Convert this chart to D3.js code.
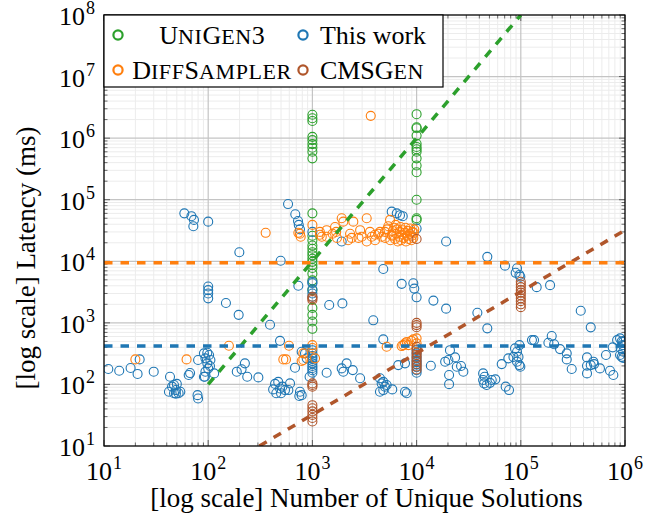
<!DOCTYPE html>
<html>
<head>
<meta charset="utf-8">
<script src="https://cdn.jsdelivr.net/npm/d3@7"></script>
<style>
  body { margin: 0; background: #fff; }
</style>
</head>
<body>
<svg id="chart" width="665" height="521" font-family="'Liberation Serif', 'Times New Roman', Times, 'DejaVu Serif', serif"></svg>
<script>
// ---- data ----
const xTickExps = [1, 2, 3, 4, 5, 6];
const yTickExps = [1, 2, 3, 4, 5, 6, 7, 8];

const unigen3 = [
  [1e3, 2.4e6], [1e3, 2.1e6], [1e3, 1.9e6], [1e3, 1.05e6], [1e3, 9.3e5], [1e3, 8e5], [1e3, 7e5], [1e3, 6e5], [1e3, 4.7e5],
  [1e3, 6e4], [1e3, 2.6e4], [1e3, 2.2e4], [1e3, 1.8e4], [1e3, 1.6e4], [1e3, 1.4e4], [1e3, 1.25e4], [1e3, 1.1e4],
  [1e3, 9.8e3], [1e3, 8.7e3], [1e3, 7.8e3], [1e3, 6.3e3], [1e3, 4.9e3], [1e3, 3.4e3], [1e3, 1.75e3], [1e3, 1.35e3],
  [1e3, 1.05e3], [1e3, 800],
  [1e4, 2.45e6], [1e4, 1.5e6], [1e4, 1.45e6], [1e4, 1.1e6], [1e4, 8.1e5], [1e4, 7.2e5], [1e4, 6.6e5], [1e4, 6e5],
  [1e4, 4.7e5], [1e4, 3.6e5], [1e4, 2.8e5], [1e4, 1e5], [1e4, 5e4], [1e4, 4.7e4]
];

const thisWork = [
  [11, 178], [14, 167], [18, 185], [21, 148], [22, 255], [30, 161], [43, 133],
  [42, 76], [45, 92], [47, 98], [47, 72], [49, 81], [49, 71], [50, 102], [52, 72], [54, 76],
  [65, 142], [67, 153], [79, 67], [80, 59], [93, 133], [80, 249],
  [91, 320], [98, 327], [102, 300], [94, 265], [105, 249], [98, 220], [104, 199], [100, 182], [94, 161], [91, 133],
  [59, 6e4], [69, 5.4e4], [73, 4.7e4], [72, 3.7e4], [100, 4.4e4],
  [100, 3900], [100, 3400], [100, 3000], [100, 2500],
  [199, 1.4e4], [148, 2100], [196, 1350], [392, 930], [489, 510],
  [584, 8.5e4], [685, 5.8e4], [728, 4.5e4], [740, 3.9e4], [760, 3.3e4], [496, 1.02e4], [733, 4000],
  [1000, 4600], [1000, 4400], [1000, 3500], [1000, 3000], [1000, 2650], [1000, 3.0e4],
  [114, 151], [188, 161], [209, 176], [225, 220], [237, 133], [303, 130],
  [438, 102], [470, 110], [489, 86], [450, 72], [500, 72], [546, 81], [588, 81], [610, 104], [515, 92], [420, 83],
  [760, 76], [789, 67], [749, 65], [681, 187], [849, 320], [882, 265], [789, 340], [940, 133],
  [1000, 360], [1000, 320], [1000, 290], [1000, 265], [1000, 240], [1000, 220], [1000, 200], [1000, 185], [1000, 170], [1000, 155],
  [1450, 1950], [1940, 2070], [3840, 1100], [4790, 540], [4790, 7500], [7190, 4300], [9300, 4400], [9500, 3600], [10000, 2600],
  [1370, 155], [1910, 182], [1980, 161], [2130, 220], [2440, 171], [2870, 126],
  [4450, 126], [4620, 104], [4790, 110], [4970, 92], [4450, 76], [5160, 98], [5840, 83], [4790, 81],
  [7740, 76], [8040, 72], [6670, 206], [7740, 220],
  [10000, 360], [10000, 320], [10000, 280], [10000, 250], [10000, 230], [10000, 210], [10000, 190], [10000, 170], [10000, 155],
  [1910, 2.1e4], [5770, 6.4e4], [6450, 6.0e4], [6930, 5.6e4], [7360, 5.4e4], [10000, 3.4e4],
  [19200, 2.1e4], [47700, 1.18e4], [70500, 8500], [89300, 6500], [92000, 7700], [97000, 6000], [99000, 5600],
  [14500, 2300], [19200, 1700], [38300, 1460], [47700, 815], [1.42e5, 3800], [1.91e5, 4100], [1.34e5, 525], [1.98e5, 610],
  [3.76e5, 1570], [4.69e5, 845],
  [20900, 360], [18800, 234], [20200, 249], [23400, 275], [24300, 194], [26700, 199], [28100, 161], [13700, 201], [20500, 142], [20500, 101],
  [43500, 151], [45000, 133], [43500, 118], [44500, 104], [47000, 98], [50600, 106], [52600, 118], [57000, 121],
  [65600, 214], [75900, 265], [71600, 92], [77100, 81],
  [88000, 385], [92000, 340], [95000, 280], [92000, 234], [97000, 206], [85000, 280], [99000, 194], [97000, 435], [1.28e5, 525],
  [1.84e5, 475], [2.09e5, 450], [2.38e5, 375], [2.76e5, 320], [2.76e5, 255], [3.08e5, 178], [4.32e5, 275], [4.32e5, 201],
  [4.32e5, 151], [4.69e5, 206], [4.97e5, 234], [5.05e5, 214], [5.75e5, 182], [6.57e5, 300], [7.18e5, 167], [7.73e5, 142], [7.62e5, 400],
  [8.4e5, 525], [8.96e5, 560], [9.3e5, 500], [9.5e5, 435], [9.1e5, 385], [9.6e5, 340], [8.96e5, 300], [9.3e5, 280], [9.6e5, 490], [9.6e5, 270]
];

const diffSampler = [
  [3630, 2.3e6], [20, 255], [62, 255], [356, 2.9e4], [158, 425], [596, 425], [526, 255], [558, 255], [789, 240], [818, 320],
  [733, 2.9e4], [772, 2.5e4], [760, 2.8e4],
  [1000, 3.9e4], [1000, 435], [1000, 390], [818, 249], [1060, 265],
  [1180, 3.0e4], [1230, 2.5e4], [1370, 3.2e4], [1650, 3.6e4], [1690, 3.0e4], [1910, 5.0e4], [1980, 4.4e4], [2300, 2.8e4],
  [2380, 2.4e4], [2470, 4.4e4], [2870, 3.2e4], [2970, 2.5e4], [3320, 5.0e4], [3570, 3.0e4], [3710, 2.5e4], [3990, 2.7e4],
  [4290, 2.8e4], [4620, 2.5e4], [4970, 3.0e4], [5350, 3.7e4], [5560, 4.7e4], [5770, 2.7e4],
  [1180, 2.7e4], [1370, 2.5e4], [1560, 2.8e4], [1720, 2.4e4], [2200, 2.2e4], [2770, 2.4e4], [3320, 2.1e4], [3990, 2.2e4], [4450, 3.0e4],
  [5600, 2.2e4], [5800, 2.6e4], [5900, 3.1e4], [6100, 3.5e4], [6200, 2.3e4], [6400, 2.8e4], [6500, 3.3e4], [6600, 2.1e4],
  [6800, 2.5e4], [6900, 3.0e4], [7000, 3.6e4], [7100, 2.2e4], [7300, 2.7e4], [7400, 3.2e4], [7500, 2.4e4], [7700, 2.9e4],
  [7800, 3.5e4], [7900, 2.1e4], [8100, 2.6e4], [8200, 3.1e4], [8400, 2.3e4], [8600, 2.8e4], [8700, 3.4e4], [8900, 2.2e4],
  [9000, 2.6e4], [9100, 3.0e4], [9300, 2.4e4], [9400, 2.9e4], [9500, 3.3e4], [6300, 3.9e4], [5200, 3.3e4], [5000, 2.4e4],
  [5160, 410], [7190, 420], [7450, 435], [7740, 465], [8040, 490], [8350, 435], [8900, 510], [9300, 540], [10000, 560], [10000, 465]
];

const cmsgen = [
  [1000, 2500], [1000, 2350], [1000, 2650], [1000, 104], [1000, 98], [1000, 92],
  [1000, 46], [1000, 41], [1000, 36.5], [1000, 32], [1000, 28.5], [1000, 25],
  [10000, 1000], [10000, 920], [10000, 850], [10000, 410], [10000, 370], [10000, 330], [10000, 300], [10000, 270],
  [10000, 240], [10000, 215], [10000, 195], [10000, 175], [10000, 2.3e4],
  [1e5, 4650], [1e5, 4200], [1e5, 3800], [1e5, 3400], [1e5, 3100], [1e5, 2800], [1e5, 2500], [1e5, 2250], [1e5, 2000], [1e5, 1800]
];

const unigen3Trend = [[100, 100], [1e5, 1e8]];
const cmsgenTrend = [[310, 10], [1e6, 3.2e4]];
const diffSamplerMean = 9500;
const thisWorkMean = 420;

// legend labels: [text, small-caps?] pieces
const series = [
  { name: [["U", 0], ["ni", 1], ["G", 0], ["en", 1], ["3", 0]], color: "#2ca02c", pts: unigen3 },
  { name: [["This work", 0]], color: "#1f77b4", pts: thisWork },
  { name: [["D", 0], ["iff", 1], ["S", 0], ["ampler", 1]], color: "#ff7f0e", pts: diffSampler },
  { name: [["CMSG", 0], ["en", 1]], color: "#b0562b", pts: cmsgen }
];

// ---- layout ----
const svg = d3.select("#chart");
const L = 104, R = 625, T = 15, B = 446;
const x = d3.scaleLog().domain([10, 1e6]).range([L, R]);
const y = d3.scaleLog().domain([10, 1e8]).range([B, T]);

const minorX = [], minorY = [];
for (let e = 1; e < 6; e++) for (let m = 2; m < 10; m++) minorX.push(m * 10 ** e);
for (let e = 1; e < 8; e++) for (let m = 2; m < 10; m++) minorY.push(m * 10 ** e);

// grid
const grid = svg.append("g");
grid.selectAll(".mx").data(minorX).join("line")
  .attr("x1", d => x(d)).attr("x2", d => x(d)).attr("y1", T).attr("y2", B)
  .attr("stroke", "#ececec").attr("stroke-width", 1);
grid.selectAll(".my").data(minorY).join("line")
  .attr("y1", d => y(d)).attr("y2", d => y(d)).attr("x1", L).attr("x2", R)
  .attr("stroke", "#ececec").attr("stroke-width", 1);
grid.selectAll(".Mx").data(xTickExps).join("line")
  .attr("x1", d => x(10 ** d)).attr("x2", d => x(10 ** d)).attr("y1", T).attr("y2", B)
  .attr("stroke", "#c4c4c4").attr("stroke-width", 1.2);
grid.selectAll(".My").data(yTickExps).join("line")
  .attr("y1", d => y(10 ** d)).attr("y2", d => y(10 ** d)).attr("x1", L).attr("x2", R)
  .attr("stroke", "#c4c4c4").attr("stroke-width", 1.2);

// ticks (inward, all sides)
const ticks = svg.append("g").attr("stroke", "#444").attr("stroke-width", 0.8);
minorX.forEach(v => {
  ticks.append("line").attr("x1", x(v)).attr("x2", x(v)).attr("y1", B).attr("y2", B - 3.5);
  ticks.append("line").attr("x1", x(v)).attr("x2", x(v)).attr("y1", T).attr("y2", T + 3.5);
});
minorY.forEach(v => {
  ticks.append("line").attr("y1", y(v)).attr("y2", y(v)).attr("x1", L).attr("x2", L + 3.5);
  ticks.append("line").attr("y1", y(v)).attr("y2", y(v)).attr("x1", R).attr("x2", R - 3.5);
});
xTickExps.forEach(e => {
  ticks.append("line").attr("x1", x(10 ** e)).attr("x2", x(10 ** e)).attr("y1", B).attr("y2", B - 6);
  ticks.append("line").attr("x1", x(10 ** e)).attr("x2", x(10 ** e)).attr("y1", T).attr("y2", T + 6);
});
yTickExps.forEach(e => {
  ticks.append("line").attr("y1", y(10 ** e)).attr("y2", y(10 ** e)).attr("x1", L).attr("x2", L + 6);
  ticks.append("line").attr("y1", y(10 ** e)).attr("y2", y(10 ** e)).attr("x1", R).attr("x2", R - 6);
});

// clip
svg.append("clipPath").attr("id", "plot").append("rect")
  .attr("x", L).attr("y", T).attr("width", R - L).attr("height", B - T);
const plot = svg.append("g").attr("clip-path", "url(#plot)");

// scatter
series.forEach(s => {
  plot.append("g").selectAll("circle").data(s.pts).join("circle")
    .attr("cx", d => x(d[0])).attr("cy", d => y(d[1])).attr("r", 4.5)
    .attr("fill", "none").attr("stroke", s.color).attr("stroke-width", 1.1);
});

// trend / mean lines
const dash = "8.5,8";
const line = d3.line().x(d => x(d[0])).y(d => y(d[1]));
plot.append("path").attr("d", line(unigen3Trend)).attr("stroke", "#2ca02c")
  .attr("stroke-width", 3.5).attr("fill", "none").attr("stroke-dasharray", dash);
plot.append("path").attr("d", line(cmsgenTrend)).attr("stroke", "#b0562b")
  .attr("stroke-width", 3.5).attr("fill", "none").attr("stroke-dasharray", dash);
plot.append("path").attr("d", line([[10, diffSamplerMean], [1e6, diffSamplerMean]])).attr("stroke", "#ff7f0e")
  .attr("stroke-width", 3.5).attr("fill", "none").attr("stroke-dasharray", dash);
plot.append("path").attr("d", line([[10, thisWorkMean], [1e6, thisWorkMean]])).attr("stroke", "#1f77b4")
  .attr("stroke-width", 3.5).attr("fill", "none").attr("stroke-dasharray", dash);

// frame
svg.append("rect").attr("x", L).attr("y", T).attr("width", R - L).attr("height", B - T)
  .attr("fill", "none").attr("stroke", "#000").attr("stroke-width", 1.2);

// tick labels
const fs = 26, sup = 18;
xTickExps.forEach(e => {
  const t = svg.append("text").attr("x", x(10 ** e)).attr("y", 480)
    .attr("text-anchor", "middle").attr("font-size", fs);
  t.append("tspan").text("10");
  t.append("tspan").attr("dy", -11).attr("dx", 1).attr("font-size", sup).text(e);
});
yTickExps.forEach(e => {
  const t = svg.append("text").attr("x", 95).attr("y", y(10 ** e) + 10)
    .attr("text-anchor", "end").attr("font-size", fs);
  t.append("tspan").text("10");
  t.append("tspan").attr("dy", -11).attr("dx", 1).attr("font-size", sup).text(e);
});

// axis titles
svg.append("text").attr("x", (L + R) / 2 + 2).attr("y", 507).attr("text-anchor", "middle")
  .attr("font-size", 27).text("[log scale] Number of Unique Solutions");
svg.append("text").attr("transform", "translate(35,258) rotate(-90)")
  .attr("text-anchor", "middle").attr("font-size", 27).text("[log scale] Latency (ms)");

// legend
const lg = svg.append("g");
lg.append("rect").attr("x", L).attr("y", T).attr("width", 339).attr("height", 72)
  .attr("fill", "#fff").attr("stroke", "#000").attr("stroke-width", 1.2);
const legendItems = [
  { s: series[0], cx: 118, tx: 212, cy: 35 },
  { s: series[1], cx: 303, tx: 373, cy: 35 },
  { s: series[2], cx: 118, tx: 212, cy: 70 },
  { s: series[3], cx: 303, tx: 372, cy: 70 }
];
legendItems.forEach(it => {
  lg.append("circle").attr("cx", it.cx).attr("cy", it.cy).attr("r", 4.6)
    .attr("fill", "none").attr("stroke", it.s.color).attr("stroke-width", 2.2);
  const t = lg.append("text").attr("x", it.tx).attr("y", it.cy + 9).attr("text-anchor", "middle")
    .attr("font-size", fs);
  it.s.name.forEach(([str, sc]) => {
    t.append("tspan").attr("font-size", sc ? 22 : fs)
      .attr("letter-spacing", sc ? 0.6 : 0)
      .text(sc ? str.toUpperCase() : str);
  });
});
</script>
</body>
</html>
